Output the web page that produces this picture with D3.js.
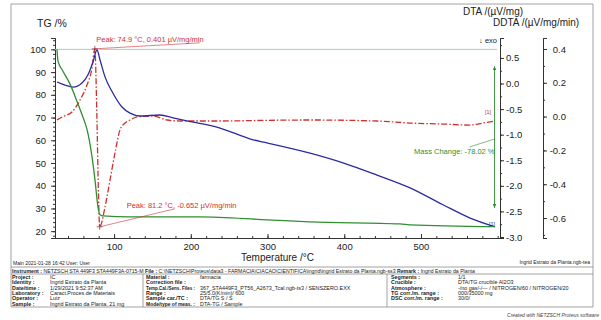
<!DOCTYPE html>
<html>
<head>
<meta charset="utf-8">
<script src="https://cdn.jsdelivr.net/npm/d3@7"></script>
<style>
  body { margin: 0; background: #fff; }
  #chart { width: 601px; height: 320px; }
  text { font-family: "Liberation Sans", Arial, sans-serif; }
</style>
</head>
<body>
<div id="chart"></div>
<script>
// TG curve (temperature / %)
const tgTemp = [25.6, 26.9, 33.4, 42.6, 51.7, 59.5, 64.7, 71.2, 75.1, 79.0, 81.7, 85.6, 120.8, 212.0, 299.0, 355.0, 472.7, 485.7, 596.5];
const tgValues = [100.0, 94.8, 90.4, 84.7, 77.1, 70.1, 64.8, 52.8, 42.6, 30.7, 27.2, 26.7, 26.3, 26.3, 25.0, 24.1, 23.2, 22.8, 21.98];

// DTA curve (temperature / uV/mg)
const dtaTemp = [25.6, 36.0, 46.5, 58.2, 66.0, 72.5, 77.7, 81.7, 88.2, 98.6, 110.3, 120.8, 133.8, 159.9, 176.8, 195.0, 238.1, 281.1, 299.3, 355.4, 398.4, 442.7, 485.7, 528.7, 564.0, 596.5];
const dtaValues = [0.03, -0.03, -0.07, 0.01, 0.17, 0.42, 0.655, 0.46, 0.13, -0.19, -0.46, -0.58, -0.635, -0.615, -0.67, -0.73, -0.87, -1.10, -1.16, -1.36, -1.55, -1.79, -2.04, -2.37, -2.63, -2.80];

// DDTA curve (temperature / uV/mg/min)
const ddtaTemp = [25.6, 33.4, 45.2, 55.6, 64.7, 71.2, 74.9, 77.6, 79.6, 81.2, 88.2, 94.7, 101.2, 107.7, 114.2, 120.8, 129.9, 150.7, 169.0, 186.0, 238.0, 300.0, 355.0, 442.7, 485.7, 528.7, 564.0, 580.9, 596.5];
const ddtaValues = [-0.02, 0.0, 0.027, 0.098, 0.187, 0.287, 0.401, 0.0, -0.45, -0.652, -0.535, -0.375, -0.215, -0.079, -0.038, -0.02, -0.002, 0.004, -0.02, -0.026, -0.026, -0.022, -0.02, -0.026, -0.038, -0.044, -0.05, -0.038, -0.026];

// ticks
const tempTicks = [100, 200, 300, 400, 500];
const tgTicks = [20, 30, 40, 50, 60, 70, 80, 90, 100];
const dtaTicks = [0.5, 0.0, -0.5, -1.0, -1.5, -2.0, -2.5, -3.0];
const ddtaTicks = [0.4, 0.2, 0.0, -0.2, -0.4, -0.6];

// evaluation
const peakTemps = [74.9, 81.2];
const peakValues = [0.401, -0.652];
const massStart = 100;
const massEnd = 21.98;
const massChange = -78.02;

// info table
const col1Labels = ["Project :", "Identity :", "Date/time :", "Laboratory :", "Operator :", "Sample :"];
const col1Values = ["IC", "Ingrid Estrato da Planta", "1/29/2021 9:52:37 AM", "Caract.Proces.de Materiais", "Luiz", "Ingrid Estrato da Planta, 21 mg"];
const col2Labels = ["Material :", "Correction file :", "Temp.Cal./Sens. Files :", "Range :", "Sample car./TC :", "Mode/type of meas. :"];
const col2Values = ["farmacia", "", "367_STA449F3_PT56_A2673_Tcal.ngb-ts3 / SENSZERO.EXX", "25/5.0(K/min)/ 600", "DTA/TG S / S", "DTA-TG / Sample"];
const col3Labels = ["Segments :", "Crucible :", "Atmosphere :", "TG corr./m. range :", "DSC corr./m. range :"];
const col3Values = ["1/1", "DTA/TG crucible Al2O3", "-/no gas/-/--- / NITROGEN/60 / NITROGEN/20", "000/35000 mg", "30/0/"];

class ThermalChart {
  constructor(id, width, height) {
    this.id = id;
    this.width = width;
    this.height = height;
    this.colors = {
      tg: "#2f8f32",
      dta: "#2b2c9e",
      ddta: "#cf3030",
      axis: "#333",
      frame: "#8a8a8a",
      ref: "#a8cfa8",
      text: "#222",
    };
    this.config = {
      left: 55, right: 500, top: 38, bottom: 238,
      ddtaAxisX: 543,
      frameLeft: 11, frameRight: 593, frameTop: 4,
      tableTop: 267, tableRow: 274, tableBottom: 307,
      div1: 143, div2: 387,
    };
  }

  fmt(v) {
    return v.toFixed(1).replace("\u2212", "-");
  }

  setupLayout() {
    this.svg = d3.select(`#${this.id}`).append("svg")
      .attr("width", this.width).attr("height", this.height);
    const defs = this.svg.append("defs");
    defs.append("marker").attr("id", "arr")
      .attr("viewBox", "0 0 6 6").attr("refX", 6).attr("refY", 3)
      .attr("markerWidth", 4).attr("markerHeight", 4)
      .attr("orient", "auto-start-reverse")
      .append("path").attr("d", "M0,0L6,3L0,6z").attr("fill", this.colors.tg);
  }

  setupScales() {
    const c = this.config;
    this.x = d3.scaleLinear().domain([23, 603]).range([c.left, c.right]);
    this.yTG = d3.scaleLinear().domain([17, 105]).range([c.bottom, c.top]);
    this.yDTA = d3.scaleLinear().domain([-3.02, 0.89]).range([c.bottom, c.top]);
    this.yDDTA = d3.scaleLinear().domain([-0.718, 0.465]).range([c.bottom, c.top]);
  }

  styleAxis(g, size) {
    g.select(".domain").attr("stroke", this.colors.axis).attr("stroke-width", 1);
    g.selectAll(".tick line").attr("stroke", this.colors.axis);
    g.selectAll(".tick text").attr("fill", this.colors.text)
      .style("font-size", size).style("font-family", "Liberation Sans, Arial, sans-serif");
  }

  drawAxes() {
    const c = this.config;
    // x axis
    const gxMinor = this.svg.append("g").attr("transform", `translate(0,${c.bottom})`)
      .call(d3.axisBottom(this.x).tickValues(d3.range(40, 601, 20)).tickSize(-2).tickFormat(""));
    this.styleAxis(gxMinor, "9px");
    const gx = this.svg.append("g").attr("transform", `translate(0,${c.bottom})`)
      .call(d3.axisBottom(this.x).tickValues(tempTicks).tickSize(-4).tickPadding(5));
    this.styleAxis(gx, "9.5px");

    // TG axis
    const gtMinor = this.svg.append("g").attr("transform", `translate(${c.left},0)`)
      .call(d3.axisLeft(this.yTG).tickValues(d3.range(18, 105, 2)).tickSize(2).tickFormat(""));
    this.styleAxis(gtMinor, "9px");
    const gt = this.svg.append("g").attr("transform", `translate(${c.left},0)`)
      .call(d3.axisLeft(this.yTG).tickValues(tgTicks).tickSize(4).tickPadding(5));
    this.styleAxis(gt, "9.5px");

    // DTA axis
    const gdMinor = this.svg.append("g").attr("transform", `translate(${c.right},0)`)
      .call(d3.axisRight(this.yDTA).tickValues(d3.range(-3.0, 0.8, 0.25)).tickSize(2).tickFormat(""));
    this.styleAxis(gdMinor, "9px");
    const gd = this.svg.append("g").attr("transform", `translate(${c.right},0)`)
      .call(d3.axisRight(this.yDTA).tickValues(dtaTicks).tickSize(4).tickPadding(2).tickFormat((d) => this.fmt(d)));
    this.styleAxis(gd, "9.5px");

    // DDTA axis
    const gddMinor = this.svg.append("g").attr("transform", `translate(${c.ddtaAxisX},0)`)
      .call(d3.axisRight(this.yDDTA).tickValues(d3.range(-0.7, 0.45, 0.1)).tickSize(2).tickFormat(""));
    this.styleAxis(gddMinor, "9px");
    const gdd = this.svg.append("g").attr("transform", `translate(${c.ddtaAxisX},0)`)
      .call(d3.axisRight(this.yDDTA).tickValues(ddtaTicks).tickSize(4).tickFormat((d) => this.fmt(d)));
    this.styleAxis(gdd, "9.5px");
    gdd.selectAll(".tick text").attr("x", 23).attr("text-anchor", "end");

    // titles
    const t = (x, y, s, size, anchor) => this.svg.append("text")
      .attr("x", x).attr("y", y).attr("text-anchor", anchor || "start")
      .attr("fill", this.colors.text).style("font-size", size).text(s);
    t(37, 27, "TG /%", "10.5px");
    t(463, 15, "DTA /(\u00b5V/mg)", "10px");
    t(493, 26, "DDTA /(\u00b5V/mg/min)", "10px");
    t(497, 43, "\u2193 exo", "7.5px", "end");
    t((c.left + c.right) / 2, 261, "Temperature /\u00b0C", "10px", "middle");
  }

  drawCurves() {
    const c = this.config;
    // 100 % reference line
    this.svg.append("line")
      .attr("x1", c.left).attr("x2", c.right - 3)
      .attr("y1", this.yTG(massStart)).attr("y2", this.yTG(massStart))
      .attr("stroke", this.colors.ref).attr("stroke-width", 1);

    const draw = (temps, vals, y, color, dash) => {
      const pts = temps.map((d, i) => [d, vals[i]]);
      this.svg.append("path").datum(pts)
        .attr("d", d3.line().x((d) => this.x(d[0])).y((d) => y(d[1])).curve(d3.curveMonotoneX))
        .attr("fill", "none").attr("stroke", color).attr("stroke-width", 1.3)
        .attr("stroke-dasharray", dash || null);
    };
    draw(ddtaTemp, ddtaValues, this.yDDTA, this.colors.ddta, "6,2,1.5,2");
    draw(dtaTemp, dtaValues, this.yDTA, this.colors.dta);
    draw(tgTemp, tgValues, this.yTG, this.colors.tg);

    // segment markers
    const lastI = ddtaTemp.length - 1;
    this.svg.append("text").attr("x", this.x(ddtaTemp[lastI]) - 10).attr("y", this.yDDTA(ddtaValues[lastI]) - 7)
      .attr("fill", this.colors.ddta).style("font-size", "5.5px").text("[1]");
    const lastD = dtaTemp.length - 1;
    this.svg.append("text").attr("x", this.x(dtaTemp[lastD]) - 6).attr("y", this.yDTA(dtaValues[lastD]) - 1)
      .attr("fill", this.colors.dta).style("font-size", "5.5px").text("[1]");
  }

  drawAnnotations() {
    const labelOffsets = [[1.5, -7, 105, -6], [27, -19, 75, -18]];
    peakTemps.forEach((tp, i) => {
      const px = this.x(tp), py = this.yDDTA(peakValues[i]);
      const o = labelOffsets[i];
      this.svg.append("path")
        .attr("d", `M${px - 3},${py}h6M${px},${py - 3}v6`)
        .attr("stroke", "#7a3030").attr("stroke-width", 0.7);
      this.svg.append("line").attr("x1", px).attr("y1", py)
        .attr("x2", px + o[2]).attr("y2", py + o[3])
        .attr("stroke", this.colors.ddta).attr("stroke-width", 0.6);
      const v = peakValues[i].toFixed(3);
      this.svg.append("text").attr("x", px + o[0]).attr("y", py + o[1])
        .attr("fill", this.colors.ddta).style("font-size", "7.5px")
        .text(`Peak: ${tp.toFixed(1)} \u00b0C, ${v} \u00b5V/mg/min`);
    });

    // mass change arrow
    const ax = this.x(tgTemp[tgTemp.length - 1]) - 0.5;
    const yTop = this.yTG(massStart) + 17, yBot = this.yTG(massEnd) - 19;
    this.svg.append("line").attr("x1", ax).attr("x2", ax).attr("y1", yBot).attr("y2", yTop)
      .attr("stroke", this.colors.tg).attr("stroke-width", 0.9)
      .attr("marker-start", "url(#arr)").attr("marker-end", "url(#arr)");
    this.svg.append("line").attr("x1", ax - 25).attr("y1", 147).attr("x2", ax).attr("y2", 139)
      .attr("stroke", this.colors.tg).attr("stroke-width", 0.6);
    this.svg.append("text").attr("x", ax).attr("y", 154).attr("text-anchor", "end")
      .attr("fill", this.colors.tg).style("font-size", "7.5px")
      .text(`Mass Change: ${massChange.toFixed(2)} %`);
  }

  drawTable() {
    const c = this.config;
    const line = (x1, y1, x2, y2) => this.svg.append("line")
      .attr("x1", x1).attr("y1", y1).attr("x2", x2).attr("y2", y2)
      .attr("stroke", this.colors.frame).attr("stroke-width", 0.8);
    // outer frame
    line(c.frameLeft, c.frameTop, c.frameRight, c.frameTop);
    line(c.frameLeft, c.frameTop, c.frameLeft, c.tableBottom);
    line(c.frameRight, c.frameTop, c.frameRight, c.tableBottom);
    line(c.frameLeft, c.tableTop, c.frameRight, c.tableTop);
    line(c.frameLeft, c.tableRow, c.frameRight, c.tableRow);
    line(c.frameLeft, c.tableBottom, c.frameRight, c.tableBottom);
    line(c.div1, c.tableRow, c.div1, c.tableBottom);
    line(c.div2, c.tableRow, c.div2, c.tableBottom);

    // maxW squeezes a label so it never runs into its value column
    const txt = (x, y, s, bold, size, anchor, maxW) => {
      const el = this.svg.append("text")
        .attr("x", x).attr("y", y).attr("text-anchor", anchor || "start")
        .attr("fill", this.colors.text).style("font-size", size || "5.4px")
        .style("font-weight", bold ? "bold" : "normal").text(s);
      if (maxW && el.node().getComputedTextLength() > maxW) {
        el.attr("textLength", maxW).attr("lengthAdjust", "spacingAndGlyphs");
      }
      return el;
    };

    txt(13, 265, "Main   2021-01-28 16:42   User: User", false, "5px");
    txt(590, 264, "Ingrid Estrato da Planta.ngb-tea", false, "5px", "end");

    // instrument row
    const row = this.svg.append("text").attr("x", 12).attr("y", 272.5)
      .attr("fill", this.colors.text).style("font-size", "5.2px");
    row.append("tspan").style("font-weight", "bold").text("Instrument : ");
    row.append("tspan").text("NETZSCH STA 449F3 STA449F3A-0715-M  ");
    row.append("tspan").style("font-weight", "bold").text("File : ");
    row.append("tspan").text("C:\\NETZSCH\\Proteus\\data3 - FARMACIA\\CIACAO\\CIENTIFICA\\ingrid\\ingrid Estrato da Planta.ngb-ss3  ");
    row.append("tspan").style("font-weight", "bold").text("Remark : ");
    row.append("tspan").text("Ingrid Estrato da Planta");

    const rowY = (i) => 279 + i * 5.3;
    col1Labels.forEach((l, i) => { txt(12, rowY(i), l, true, null, null, 35); txt(50, rowY(i), col1Values[i], false, null, null, 90); });
    col2Labels.forEach((l, i) => { txt(146, rowY(i), l, true, null, null, 49); txt(200, rowY(i), col2Values[i], false, null, null, 183); });
    col3Labels.forEach((l, i) => { txt(391, rowY(i), l, true, null, null, 63); txt(458, rowY(i), col3Values[i], false, null, null, 132); });

    this.svg.append("text").attr("x", 599).attr("y", 317).attr("text-anchor", "end")
      .attr("fill", "#444").style("font-size", "5px").style("font-style", "italic")
      .text("Created with NETZSCH Proteus software");
  }

  drawChart() {
    this.setupLayout();
    this.setupScales();
    this.drawAxes();
    this.drawCurves();
    this.drawAnnotations();
    this.drawTable();
  }
}

new ThermalChart("chart", 601, 320).drawChart();
</script>
</body>
</html>
